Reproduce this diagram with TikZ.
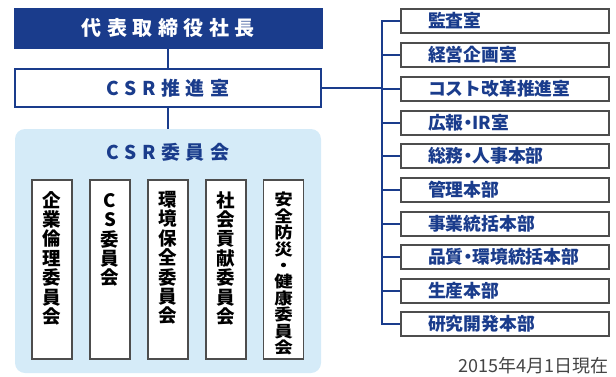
\documentclass[tikz,border=0pt]{standalone}
\usepackage{fontspec}
\usepackage{graphicx}
\setmainfont{Noto Sans CJK JP}
\definecolor{navy}{HTML}{1A3C8C}
\definecolor{panelblue}{HTML}{D5EBF8}
\definecolor{boxgrey}{HTML}{4D4D4D}
\definecolor{dategrey}{HTML}{444444}
\newcommand\ls{\hspace{5.5pt}}
\newcommand\sq[1]{\scalebox{1}[0.86]{#1}}
\newcommand\hdot{\kern-0.25em・\kern-0.25em}
\begin{document}
\begin{tikzpicture}[x=1pt,y=-1pt,
  conn/.style={draw=navy,line width=2.5pt},
  topbox/.style={fill=navy,draw=navy,minimum width=308pt,minimum height=40pt,inner sep=0pt,
    text=white,font=\fontsize{20}{24}\selectfont\bfseries},
  csrbox/.style={fill=white,draw=navy,line width=2pt,minimum width=306pt,minimum height=38pt,inner sep=0pt,
    text=navy,font=\fontsize{19}{23}\selectfont\bfseries},
  panel/.style={fill=panelblue,draw=none,rounded corners=10pt,minimum width=306pt,minimum height=244pt,inner sep=0pt},
  paneltitle/.style={text=navy,inner sep=0pt,font=\fontsize{19}{23}\selectfont\bfseries},
  colbox/.style={fill=white,draw=boxgrey,line width=1.2pt,minimum width=40pt,minimum height=179pt,inner sep=0pt},
  coltext/.style={anchor=north,align=center,inner sep=0pt,text=black,font=\fontsize{18.5}{19.4}\selectfont\bfseries},
  coltextsq/.style={anchor=north,align=center,inner sep=0pt,text=black,font=\fontsize{18.5}{16.4}\selectfont\bfseries},
  rbox/.style={fill=white,draw=boxgrey,line width=1.2pt,minimum width=208pt,minimum height=24pt,
    text width=208pt,inner xsep=0pt,inner ysep=0pt,align=left,text=navy,
    font=\fontsize{17.8}{20}\selectfont\bfseries},
  datetext/.style={anchor=base east,inner sep=0pt,text=dategrey,font=\fontsize{18}{20}\selectfont}
]
\useasboundingbox (0,0) rectangle (616,376);

% left column
\node[topbox] (top) at (168,28) {代\ls 表\ls 取\ls 締\ls 役\ls 社\ls 長};
\node[csrbox] (csr) at (168,88) {C\ls S\ls R\ls 推\ls 進\ls 室};
\node[panel] (panel) at (168,251) {};
\node[paneltitle] (ptitle) at (168,152) {C\ls S\ls R\ls 委\ls 員\ls 会};

\node[colbox] (c1) at (52,269.5) {};
\node[colbox] (c2) at (110,269.5) {};
\node[colbox] (c3) at (168,269.5) {};
\node[colbox] (c4) at (226,269.5) {};
\node[colbox] (c5) at (283.5,269.5) {};
\node[coltext] (t1) at (52,191) {企\\業\\倫\\理\\委\\員\\会};
\node[coltext] (t2) at (110,193) {C\\S\\委\\員\\会};
\node[coltext] (t3) at (168,191) {環\\境\\保\\全\\委\\員\\会};
\node[coltext] (t4) at (226,191) {社\\会\\貢\\献\\委\\員\\会};
\node[coltextsq] (t5) at (283.5,192) {\sq{安}\\\sq{全}\\\sq{防}\\\sq{災}\\\sq{・}\\\sq{健}\\\sq{康}\\\sq{委}\\\sq{員}\\\sq{会}};

% right column
\node[rbox] (r1) at (505,21) {\hspace*{27pt}監査室};
\node[rbox] (r2) at (505,55) {\hspace*{27pt}経営企画室};
\node[rbox] (r3) at (505,89) {\hspace*{27pt}コスト改革推進室};
\node[rbox] (r4) at (505,123) {\hspace*{27pt}広報\hdot IR室};
\node[rbox] (r5) at (505,156) {\hspace*{27pt}総務\hdot 人事本部};
\node[rbox] (r6) at (505,190) {\hspace*{27pt}管理本部};
\node[rbox] (r7) at (505,224) {\hspace*{27pt}事業統括本部};
\node[rbox] (r8) at (505,257) {\hspace*{27pt}品質\hdot 環境統括本部};
\node[rbox] (r9) at (505,291) {\hspace*{27pt}生産本部};
\node[rbox] (r10) at (505,324) {\hspace*{27pt}研究開発本部};

\node[datetext] (date) at (609,372) {2015年4月1日現在};

% connectors
\coordinate (tk) at (382,0);
\draw[conn] (top.south) -- (csr.north);
\draw[conn] (csr.south) -- (panel.north);
\draw[conn] (csr.east) -- (csr.east -| tk);
\draw[conn,line join=miter] (r1.west) -- (r1.west -| tk) -- (r10.west -| tk) -- (r10.west);
\foreach \i in {2,...,9} {\draw[conn] (r\i.west) -- (r\i.west -| tk);}
\end{tikzpicture}
\end{document}
